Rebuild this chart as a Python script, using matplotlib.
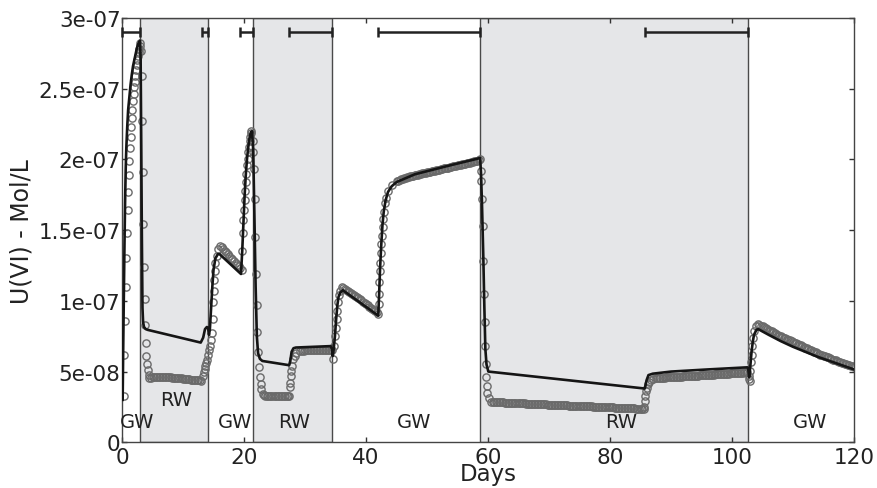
import matplotlib
matplotlib.use('Agg')
import matplotlib.pyplot as plt
import matplotlib.ticker as ticker
import numpy as np

# observed U(VI) concentrations (units of 1e-8 mol/L)
obs_days = [
    # GW 1
    0.3, 0.4, 0.5, 0.6, 0.7, 0.8, 0.9, 1.0, 1.1, 1.2, 1.3, 1.4, 1.5, 1.6, 1.7, 1.8, 1.9, 2.0,
    2.1, 2.2, 2.3, 2.4, 2.5, 2.6, 2.7, 2.8, 2.9, 3.0,
    # RW 1
    3.1, 3.2, 3.3, 3.4, 3.5, 3.6, 3.7, 3.8, 3.9, 4.0, 4.1, 4.2, 4.35,
    4.5, 4.75, 5.0, 5.25, 5.5, 5.75, 6.0, 6.25, 6.5, 6.75, 7.0, 7.25, 7.5, 7.75, 8.0, 8.25, 8.5, 8.75,
    9.0, 9.25, 9.5, 9.75, 10.0, 10.25, 10.5, 10.75, 11.0, 11.25, 11.5, 11.75, 12.0, 12.25, 12.5, 12.75, 13.0,
    13.33, 13.44, 13.56, 13.66, 13.77, 13.89, 14.1,
    # GW 2
    14.3, 14.43, 14.54, 14.75, 14.87, 14.97, 15.03, 15.08, 15.2, 15.3, 15.5, 15.8, 16.1,
    16.35, 16.6, 16.85, 17.1, 17.35, 17.6, 17.85, 18.1, 18.35, 18.6, 18.85, 19.1, 19.35,
    19.6, 19.7, 19.8, 19.9, 20.0, 20.1, 20.2, 20.3, 20.4, 20.5, 20.6, 20.7, 20.8, 20.9, 21.0, 21.1, 21.2,
    # RW 2
    21.4, 21.5, 21.64, 21.75, 21.85, 21.97, 22.08, 22.18, 22.3, 22.5, 22.6, 22.7, 22.8, 23.1,
    23.3, 23.5, 23.75, 24.0, 24.25, 24.5, 24.75, 25.0, 25.25, 25.5, 25.75, 26.0, 26.25, 26.5,
    26.75, 27.0, 27.25, 27.4,
    27.5, 27.55, 27.65, 27.75, 27.85, 28.05, 28.3, 28.6, 29.2,
    29.5, 29.75, 30.0, 30.25, 30.5, 30.75, 31.0, 31.25, 31.5, 31.75, 32.0, 32.25, 32.5, 32.75,
    33.0, 33.25, 33.5, 33.75, 34.0, 34.25, 34.4,
    # GW 3
    34.6, 34.8, 34.97, 35.08, 35.2, 35.3, 35.4, 35.5, 35.7, 36.0,
    36.25, 36.5, 36.75, 37.0, 37.25, 37.5, 37.75, 38.0, 38.25, 38.5, 38.75, 39.0, 39.25, 39.5,
    39.75, 40.0, 40.25, 40.5, 40.75, 41.0, 41.25, 41.5, 41.75, 42.0,
    42.08, 42.14, 42.2, 42.26, 42.33, 42.4, 42.5, 42.6, 42.7, 42.8, 42.95, 43.1, 43.3, 43.65, 44.2, 45.0,
    45.25, 45.5, 45.75, 46.0, 46.25, 46.5, 46.75, 47.0, 47.25, 47.5, 47.75, 48.0, 48.25, 48.5,
    48.75, 49.0, 49.25, 49.5, 49.75, 50.0, 50.25, 50.5, 50.75, 51.0, 51.25, 51.5, 51.75, 52.0,
    52.25, 52.5, 52.75, 53.0, 53.25, 53.5, 53.75, 54.0, 54.25, 54.5, 54.75, 55.0, 55.25, 55.5,
    55.75, 56.0, 56.25, 56.5, 56.75, 57.0, 57.25, 57.5, 57.75, 58.0, 58.25, 58.5, 58.7,
    # RW 3
    58.8, 58.9, 59.0, 59.13, 59.23, 59.34, 59.46, 59.56, 59.62, 59.67, 59.8, 59.9, 60.1, 60.45,
    60.75, 61.0, 61.25, 61.5, 61.75, 62.0, 62.25, 62.5, 62.75, 63.0,
    63.25, 63.5, 63.75, 64.0, 64.25, 64.5, 64.75, 65.0, 65.25, 65.5,
    65.75, 66.0, 66.25, 66.5, 66.75, 67.0, 67.25, 67.5, 67.75, 68.0,
    68.25, 68.5, 68.75, 69.0, 69.25, 69.5, 69.75, 70.0, 70.25, 70.5,
    70.75, 71.0, 71.25, 71.5, 71.75, 72.0, 72.25, 72.5, 72.75, 73.0,
    73.25, 73.5, 73.75, 74.0, 74.25, 74.5, 74.75, 75.0, 75.25, 75.5,
    75.75, 76.0, 76.25, 76.5, 76.75, 77.0, 77.25, 77.5, 77.75, 78.0,
    78.25, 78.5, 78.75, 79.0, 79.25, 79.5, 79.75, 80.0, 80.25, 80.5,
    80.75, 81.0, 81.25, 81.5, 81.75, 82.0, 82.25, 82.5, 82.75, 83.0,
    83.25, 83.5, 83.75, 84.0, 84.25, 84.5, 84.75, 85.0, 85.25, 85.5,
    85.6, 85.7, 85.8, 85.9, 86.0, 86.2, 86.4, 86.7, 87.0, 87.5,
    87.75, 88.0, 88.25, 88.5, 88.75, 89.0, 89.25, 89.5, 89.75, 90.0,
    90.25, 90.5, 90.75, 91.0, 91.25, 91.5, 91.75, 92.0, 92.25, 92.5,
    92.75, 93.0, 93.25, 93.5, 93.75, 94.0, 94.25, 94.5, 94.75, 95.0,
    95.25, 95.5, 95.75, 96.0, 96.25, 96.5, 96.75, 97.0, 97.25, 97.5,
    97.75, 98.0, 98.25, 98.5, 98.75, 99.0, 99.25, 99.5, 99.75, 100.0,
    100.25, 100.5, 100.75, 101.0, 101.25, 101.5, 101.75, 102.0, 102.25, 102.5,
    # GW 4
    102.7, 102.8, 102.9, 103.0, 103.1, 103.2, 103.3, 103.4, 103.6, 103.9, 104.2,
    104.5, 104.75, 105.0, 105.25, 105.5, 105.75, 106.0, 106.25, 106.5, 106.75, 107.0,
    107.25, 107.5, 107.75, 108.0, 108.25, 108.5, 108.75, 109.0, 109.25, 109.5, 109.75,
    110.0, 110.25, 110.5, 110.75, 111.0, 111.25, 111.5, 111.75, 112.0, 112.25, 112.5,
    112.75, 113.0, 113.25, 113.5, 113.75, 114.0, 114.25, 114.5, 114.75, 115.0, 115.25,
    115.5, 115.75, 116.0, 116.25, 116.5, 116.75, 117.0, 117.25, 117.5, 117.75, 118.0,
    118.25, 118.5, 118.75, 119.0, 119.25, 119.5, 119.75, 120.0,
]
obs_conc = [
    3.3, 6.2, 8.6, 11.0, 13.0, 14.8, 16.4, 17.7, 18.9, 19.9, 20.8, 21.6, 22.3, 22.9, 23.5, 24.1, 24.6, 25.1,
    25.5, 25.9, 26.3, 26.7, 27.0, 27.3, 27.6, 27.8, 28.0, 28.2,
    27.7, 25.9, 22.7, 19.1, 15.4, 12.4, 10.1, 8.3, 7.0, 6.1, 5.5, 5.1, 4.75,
    4.55, 4.58, 4.6, 4.61, 4.62, 4.64, 4.65, 4.65, 4.65, 4.65, 4.65, 4.64, 4.62, 4.61, 4.6, 4.58, 4.57, 4.56,
    4.55, 4.53, 4.52, 4.51, 4.5, 4.48, 4.47, 4.46, 4.45, 4.43, 4.42, 4.41, 4.4, 4.39, 4.38, 4.37, 4.36,
    4.7, 4.95, 5.2, 5.4, 5.6, 5.85, 6.2,
    6.5, 6.8, 7.2, 7.7, 8.7, 9.9, 10.7, 11.5, 12.1, 12.7, 13.2, 13.7, 13.9,
    13.8, 13.68, 13.55, 13.43, 13.3, 13.18, 13.05, 12.93, 12.8, 12.68, 12.55, 12.43, 12.3,
    12.2, 13.5, 14.8, 15.7, 16.4, 17.1, 17.8, 18.4, 19.0, 19.6, 20.0, 20.5, 20.9, 21.3, 21.6, 21.9, 22.0,
    21.3, 20.5, 19.3, 17.2, 14.5, 11.9, 9.7, 7.8, 6.4, 5.3, 4.6, 4.1, 3.8, 3.4,
    3.33, 3.3, 3.3, 3.3, 3.29, 3.28, 3.28, 3.28, 3.27, 3.27, 3.27, 3.27, 3.27, 3.27,
    3.28, 3.28, 3.29, 3.3,
    3.9, 4.2, 4.7, 5.05, 5.4, 5.9, 6.1, 6.3, 6.45,
    6.47, 6.48, 6.49, 6.5, 6.5, 6.5, 6.5, 6.5, 6.5, 6.5, 6.5, 6.5, 6.5, 6.51,
    6.52, 6.52, 6.52, 6.53, 6.54, 6.55, 6.5,
    5.9, 6.8, 7.5, 8.1, 8.7, 9.3, 9.9, 10.4, 10.7, 11.0,
    10.92, 10.85, 10.78, 10.7, 10.63, 10.55, 10.48, 10.4, 10.33, 10.25, 10.18, 10.1, 10.03, 9.95,
    9.88, 9.8, 9.7, 9.6, 9.53, 9.45, 9.38, 9.3, 9.2, 9.1,
    9.8, 10.5, 11.3, 12.1, 12.7, 13.4, 14.0, 14.6, 15.2, 15.8, 16.3, 16.9, 17.3, 17.8, 18.2, 18.45,
    18.5, 18.55, 18.59, 18.63, 18.67, 18.7, 18.74, 18.77, 18.8, 18.83, 18.86, 18.88, 18.91, 18.93,
    18.96, 18.98, 19.01, 19.03, 19.06, 19.08, 19.11, 19.13, 19.16, 19.18, 19.21, 19.23, 19.26, 19.28,
    19.31, 19.33, 19.36, 19.38, 19.41, 19.43, 19.46, 19.48, 19.51, 19.53, 19.56, 19.58, 19.61, 19.63,
    19.66, 19.68, 19.71, 19.73, 19.76, 19.78, 19.81, 19.83, 19.86, 19.88, 19.91, 19.93, 20.0,
    19.2, 18.5, 17.2, 15.3, 12.8, 10.5, 8.5, 6.8, 5.5, 4.6, 4.0, 3.5, 3.1, 2.85,
    2.85, 2.85, 2.84, 2.84, 2.83, 2.83, 2.82, 2.82, 2.81, 2.81,
    2.80, 2.80, 2.79, 2.79, 2.78, 2.78, 2.77, 2.77, 2.76, 2.76,
    2.75, 2.75, 2.74, 2.74, 2.73, 2.73, 2.72, 2.72, 2.71, 2.71,
    2.70, 2.70, 2.69, 2.69, 2.68, 2.68, 2.67, 2.67, 2.66, 2.66,
    2.65, 2.65, 2.64, 2.64, 2.63, 2.63, 2.62, 2.62, 2.61, 2.61,
    2.60, 2.60, 2.59, 2.59, 2.58, 2.58, 2.57, 2.57, 2.56, 2.56,
    2.55, 2.55, 2.54, 2.54, 2.53, 2.53, 2.52, 2.52, 2.51, 2.51,
    2.50, 2.50, 2.49, 2.49, 2.48, 2.48, 2.47, 2.47, 2.46, 2.46,
    2.45, 2.45, 2.44, 2.44, 2.43, 2.43, 2.42, 2.42, 2.41, 2.41,
    2.40, 2.40, 2.39, 2.39, 2.38, 2.38, 2.37, 2.37, 2.36, 2.36,
    2.5, 2.9, 3.3, 3.6, 3.85, 4.1, 4.25, 4.4, 4.48, 4.53,
    4.55, 4.56, 4.56, 4.57, 4.57, 4.58, 4.59, 4.59, 4.6, 4.61,
    4.61, 4.62, 4.62, 4.63, 4.64, 4.64, 4.65, 4.66, 4.66, 4.67,
    4.68, 4.68, 4.69, 4.7, 4.7, 4.71, 4.72, 4.72, 4.73, 4.74,
    4.74, 4.75, 4.76, 4.76, 4.77, 4.78, 4.78, 4.79, 4.8, 4.8,
    4.81, 4.82, 4.83, 4.83, 4.84, 4.85, 4.85, 4.86, 4.87, 4.87,
    4.88, 4.89, 4.9, 4.9, 4.91, 4.92, 4.93, 4.94, 4.95, 4.96,
    4.7, 4.5, 4.36, 5.06, 5.66, 6.2, 6.8, 7.4, 7.9, 8.25, 8.35,
    8.3, 8.25, 8.2, 8.12, 8.05, 8.0, 7.95, 7.9, 7.85, 7.78, 7.7,
    7.65, 7.6, 7.55, 7.5, 7.45, 7.4, 7.35, 7.3, 7.25, 7.2, 7.15,
    7.1, 7.05, 7.0, 6.95, 6.9, 6.85, 6.8, 6.75, 6.7, 6.65, 6.6,
    6.55, 6.5, 6.45, 6.4, 6.35, 6.3, 6.25, 6.2, 6.15, 6.1, 6.08,
    6.05, 6.0, 5.95, 5.9, 5.85, 5.83, 5.8, 5.75, 5.7, 5.65, 5.6,
    5.58, 5.55, 5.5, 5.45, 5.43, 5.4, 5.38, 5.35,
]

# simulated U(VI) (units of 1e-8 mol/L)
model_days = [
    0.1, 0.2, 0.3, 0.4, 0.5, 0.6, 0.7, 0.85, 1.0, 1.2, 1.4, 1.6, 1.8, 2.0, 2.2, 2.4, 2.6, 2.8, 2.95,
    3.05, 3.15, 3.25, 3.35, 3.45, 3.6, 3.9, 4.2, 12.9, 13.3, 13.6, 13.9, 14.1, 14.25, 14.4, 14.6,
    14.8, 15.0, 15.3, 15.7, 16.0,
    19.5, 19.7, 19.9, 20.1, 20.3, 20.5, 20.7, 20.9, 21.1, 21.3,
    21.5, 21.7, 21.9, 22.1, 22.3, 22.6, 23.0, 27.4, 27.6, 27.8, 28.1, 28.5, 34.2,
    34.4, 34.55, 34.7, 34.9, 35.1, 35.3, 35.5, 35.8, 36.2, 42.0, 42.15, 42.3, 42.5, 42.7, 42.9,
    43.2, 43.6, 44.2, 45.0, 48.0, 53.0, 58.7,
    58.85, 59.0, 59.23, 59.4, 59.56, 59.75, 60.05, 85.7, 86.0, 86.3, 87.0, 90.0, 96.0, 102.5,
    102.65, 102.8, 103.0, 103.2, 103.4, 103.6, 104.0, 104.3, 106.0, 108.0, 110.0, 112.0, 114.0,
    116.0, 118.0, 120.0,
]
model_conc = [
    3.0, 7.0, 10.5, 14.0, 17.0, 19.3, 20.8, 22.3, 23.5, 24.4, 25.3, 26.0, 26.6, 27.0, 27.4, 27.8, 28.1, 28.3, 28.4,
    27.0, 21.0, 14.5, 9.5, 8.5, 8.15, 8.0, 7.95, 7.05, 7.4, 8.0, 8.15, 8.1, 7.6, 8.0, 9.5,
    11.0, 12.2, 13.0, 13.3, 13.3,
    11.9, 13.5, 15.5, 17.5, 19.0, 20.1, 20.9, 21.5, 21.9, 22.0,
    20.7, 16.0, 11.0, 7.5, 6.3, 5.9, 5.75, 5.45, 5.8, 6.4, 6.65, 6.7, 6.8,
    6.6, 6.1, 6.6, 7.5, 8.7, 9.7, 10.3, 10.6, 10.75, 8.95, 10.5, 12.3, 14.0, 15.4, 16.3,
    17.1, 17.7, 18.1, 18.4, 18.95, 19.5, 20.1,
    19.0, 17.0, 13.0, 9.5, 6.6, 5.5, 5.0, 3.8, 4.4, 4.75, 4.85, 5.0, 5.15, 5.3,
    5.2, 4.6, 5.4, 6.4, 7.1, 7.6, 7.95, 8.0, 7.6, 7.15, 6.75, 6.4, 6.05,
    5.75, 5.45, 5.15,
]

# river water (RW) injection periods
rw_start = [2.95, 21.5, 58.7]
rw_end = [14.1, 34.4, 102.6]

# phase labels
phase_names = ['GW', 'RW', 'GW', 'RW', 'GW', 'RW', 'GW']
phase_days = [2.5, 8.9, 18.5, 28.2, 47.9, 81.8, 112.8]
phase_conc = [1.5, 3.0, 1.5, 1.5, 1.5, 1.5, 1.5]

# sampling windows at the top
win_start = [0.0, 13.1, 19.3, 27.4, 41.9, 85.7]
win_end = [2.95, 14.1, 21.5, 34.4, 58.7, 102.6]
win_level = 2.9e-7

assert len(obs_days) == len(obs_conc), (len(obs_days), len(obs_conc))
assert len(model_days) == len(model_conc), (len(model_days), len(model_conc))

plt.rcParams['font.family'] = 'DejaVu Sans'
plt.rcParams['xtick.direction'] = 'in'
plt.rcParams['ytick.direction'] = 'in'

fig = plt.figure(figsize=(8.78, 4.89), dpi=100)
ax = fig.add_axes([0.139, 0.0935, 0.8337, 0.8676])

for s, e in zip(rw_start, rw_end):
    ax.axvspan(s, e, facecolor='#e5e6e8', edgecolor='#4a4a4a', linewidth=1.0, zorder=0)

# hollow circles, so overlapping samples build up a grey band
ax.plot(np.array(obs_days), np.array(obs_conc) * 1e-8, 'o', markersize=5.2,
        markerfacecolor='none', markeredgecolor='#6a6a6a', markeredgewidth=1.0, zorder=2)
ax.plot(np.array(model_days), np.array(model_conc) * 1e-8, '-', color='#151515',
        linewidth=1.9, zorder=3)

win_start = np.array(win_start)
win_end = np.array(win_end)
ax.errorbar((win_start + win_end) / 2, [win_level] * len(win_start), xerr=(win_end - win_start) / 2,
            fmt='none', ecolor='#222222', elinewidth=1.8, capsize=3.3, capthick=1.8,
            zorder=4, clip_on=False)

for name, d, c in zip(phase_names, phase_days, phase_conc):
    ax.text(d, c * 1e-8, name, ha='center', va='center', fontsize=14, color='#222222')

ax.set_xlim(0, 120)
ax.set_ylim(0, 3e-7)
ax.set_xticks([0, 20, 40, 60, 80, 100, 120])
ax.set_yticks([0, 5e-8, 1e-7, 1.5e-7, 2e-7, 2.5e-7, 3e-7])
ax.yaxis.set_major_formatter(ticker.FuncFormatter(lambda v, _: '%g' % v))
ax.tick_params(axis='both', which='major', labelsize=15.5, length=3.5, width=1,
               top=True, right=True, colors='#333333', labelcolor='#222222')
ax.tick_params(axis='x', pad=3.5)
ax.tick_params(axis='y', pad=1)
for sp in ax.spines.values():
    sp.set_color('#444444')
    sp.set_linewidth(1.0)

ax.set_xlabel('Days', fontsize=16.5, color='#222222')
ax.xaxis.set_label_coords(0.5, -0.046)
ax.set_ylabel('U(VI) - Mol/L', fontsize=17, labelpad=3, color='#222222')

fig.savefig('out.png', dpi=100)
